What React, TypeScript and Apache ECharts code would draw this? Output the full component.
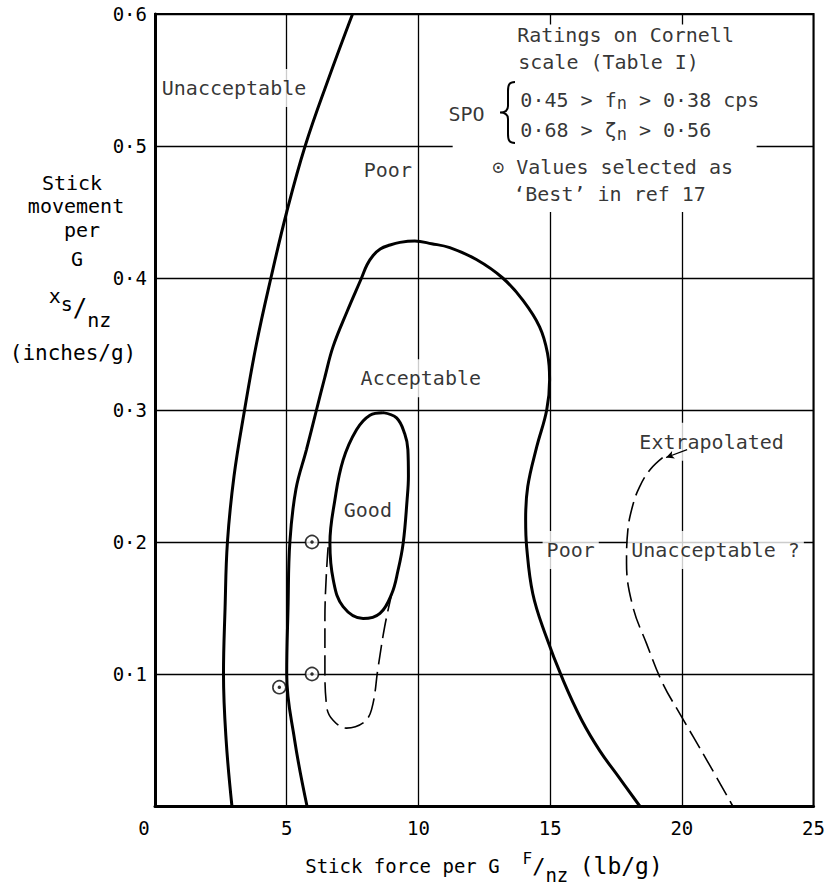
import React, { useEffect, useRef } from 'react';
import * as echarts from 'echarts';

const FONT = '"DejaVu Sans Mono", monospace';

// Axis ticks
const xMin = 0, xMax = 25, xStep = 5;
const yMin = 0, yMax = 0.6, yStep = 0.1;

// Boundary curves [stick force per g, stick movement per g]
const unacceptableBoundary: number[][] = [
  [2.92, 0], [2.7, 0.05], [2.6, 0.1], [2.66, 0.15], [2.75, 0.2], [3.0, 0.25], [3.4, 0.3],
  [3.85, 0.35], [4.4, 0.4], [5.0, 0.45], [5.7, 0.5], [6.57, 0.55], [7.5, 0.6],
];
const acceptableBoundary: number[][] = [
  [5.77, 0], [5.3, 0.05], [5.0, 0.1], [5.05, 0.15], [5.12, 0.2], [5.35, 0.24], [5.75, 0.27],
  [6.13, 0.3], [6.45, 0.325], [6.76, 0.348], [7.3, 0.375], [7.84, 0.4], [8.05, 0.41], [8.28, 0.417],
  [8.55, 0.422], [8.92, 0.425], [9.3, 0.427], [9.86, 0.428], [10.5, 0.426], [11.19, 0.423],
  [12.2, 0.414], [13.2, 0.4], [13.97, 0.383], [14.6, 0.363], [14.9, 0.343], [14.98, 0.323],
  [14.87, 0.3], [14.49, 0.272], [14.15, 0.242], [14.07, 0.217], [14.11, 0.196], [14.34, 0.161],
  [14.8, 0.131], [15.5, 0.095], [16.2, 0.065], [16.88, 0.042], [17.6, 0.022], [18.4, 0],
];
const goodBoundary: number[][] = [
  [8.65, 0.298], [9.17, 0.294], [9.48, 0.282], [9.6, 0.27], [9.62, 0.25], [9.57, 0.232],
  [9.42, 0.199], [9.22, 0.178], [8.99, 0.161], [8.54, 0.146], [7.9, 0.142], [7.14, 0.151],
  [6.77, 0.171], [6.64, 0.199], [6.83, 0.232], [7.14, 0.262], [7.65, 0.285], [8.16, 0.296],
  [8.65, 0.298],
];
const goodExtrapolated: number[][] = [
  [6.57, 0.196], [6.45, 0.143], [6.45, 0.105], [6.52, 0.075], [6.76, 0.065], [7.27, 0.059],
  [7.9, 0.063], [8.22, 0.073], [8.47, 0.105], [8.72, 0.136], [8.99, 0.161],
];
const unacceptableExtrapolated: number[][] = [
  [19.27, 0.264], [18.8, 0.255], [18.4, 0.242], [18.14, 0.228], [17.95, 0.209], [17.9, 0.184],
  [18.14, 0.151], [18.66, 0.123], [19.27, 0.093], [19.92, 0.07], [20.94, 0.035], [21.93, 0],
];
const bestValues: number[][] = [[5.96, 0.2], [5.96, 0.1], [4.72, 0.09]];
const extrapolatedArrow: number[][] = [[20.2, 0.27], [19.4, 0.264]];
const noteMask: number[][] = [[11.3, 0.45], [22.84, 0.592]];

// Text annotations
const regionLabels = [
  { name: 'Unacceptable', value: [3.0, 0.544] },
  { name: 'Poor', value: [8.84, 0.482] },
  { name: 'Acceptable', value: [10.09, 0.324] },
  { name: 'Good', value: [8.08, 0.224] },
  { name: 'Poor', value: [15.78, 0.194] },
  { name: 'Unacceptable ?', value: [21.28, 0.194] },
  { name: 'Extrapolated', value: [21.13, 0.276] },
];
const noteLines = [
  { name: 'Ratings on Cornell', value: [13.73, 0.584] },
  { name: 'scale (Table I)', value: [13.77, 0.564] },
  { name: 'SPO', value: [11.12, 0.524] },
  { name: '0·45 > f{s|n} > 0·38 cps', value: [13.85, 0.535] },
  { name: '0·68 > ζ{s|n} > 0·56', value: [13.85, 0.512] },
  { name: '⊙ Values selected as', value: [12.78, 0.484] },
  { name: '‘Best’ in ref 17', value: [13.58, 0.464] },
];

const BRACE_PATH = 'M15,0 C9,0 8,3 8,9 L8,24 C8,28 6,30.5 0,30.5 C6,30.5 8,33 8,37 L8,52 C8,58 9,61 15,61';

const thick = { color: '#000', width: 3 };
const dashed = { color: '#000', width: 1.6, type: [20, 7] as number[] };
const hidden = { color: 'rgba(0,0,0,0)' };

export default function App() {
  const ref = useRef<HTMLDivElement>(null);
  useEffect(() => {
    const el = ref.current!;
    echarts.graphic.registerShape('brace', echarts.graphic.extendPath(BRACE_PATH, {}) as any);
    const chart = echarts.init(el, null, { renderer: 'svg' });
    const txt = { fontFamily: FONT, fontSize: 20, color: '#000' };
    const option: any = {
      animation: false,
      backgroundColor: '#fff',
      grid: { left: 155, right: 14, top: 14, bottom: 83, show: true, borderColor: '#000', borderWidth: 2 },
      xAxis: {
        type: 'value', min: xMin, max: xMax, interval: xStep,
        axisLine: { show: true, lineStyle: { color: '#000', width: 3 } },
        axisTick: { show: false },
        splitLine: { show: true, lineStyle: { color: '#000', width: 1.3 } },
        axisLabel: {
          ...txt, fontSize: 19, margin: 12,
          formatter: (v: number) => (v === 0 ? '{z|0}' : String(v)),
          rich: { z: { fontFamily: FONT, fontSize: 19, color: '#000', padding: [0, 22, 0, 0] } },
        },
      },
      yAxis: {
        type: 'value', min: yMin, max: yMax, interval: yStep,
        axisLine: { show: true, lineStyle: { color: '#000', width: 3 } },
        axisTick: { show: false },
        splitLine: { show: true, lineStyle: { color: '#000', width: 1.3 } },
        axisLabel: {
          ...txt, fontSize: 19, margin: 8,
          formatter: (v: number) => (v === 0 ? '' : '0·' + Math.round(v * 10)),
        },
      },
      graphic: [
        { type: 'brace', x: 500, y: 82, style: { stroke: '#000', lineWidth: 2, fill: null }, z: 10 },
        { type: 'text', x: 72, y: 183, style: { text: 'Stick', font: `20px ${FONT}`, fill: '#000', align: 'center', verticalAlign: 'middle' } },
        { type: 'text', x: 76, y: 206, style: { text: 'movement', font: `20px ${FONT}`, fill: '#000', align: 'center', verticalAlign: 'middle' } },
        { type: 'text', x: 82, y: 230, style: { text: 'per', font: `20px ${FONT}`, fill: '#000', align: 'center', verticalAlign: 'middle' } },
        { type: 'text', x: 77, y: 259, style: { text: 'G', font: `20px ${FONT}`, fill: '#000', align: 'center', verticalAlign: 'middle' } },
        {
          type: 'text', x: 80, y: 308,
          style: {
            text: '{a|x}{b|s}{c|/}{d|n}{e|z}', fill: '#000', align: 'center', verticalAlign: 'middle',
            rich: {
              a: { fontFamily: FONT, fontSize: 20, lineHeight: 44, verticalAlign: 'top' },
              b: { fontFamily: FONT, fontSize: 20, lineHeight: 30, verticalAlign: 'top', padding: [8, 0, 0, 0] },
              c: { fontFamily: FONT, fontSize: 24, lineHeight: 44, verticalAlign: 'middle' },
              d: { fontFamily: FONT, fontSize: 20, lineHeight: 30, verticalAlign: 'bottom' },
              e: { fontFamily: FONT, fontSize: 20, lineHeight: 22, verticalAlign: 'bottom' },
            },
          },
        },
        { type: 'text', x: 73, y: 353, style: { text: '(inches/g)', font: `21px ${FONT}`, fill: '#000', align: 'center', verticalAlign: 'middle' } },
        {
          type: 'text', x: 484, y: 866,
          style: {
            text: 'Stick force per G  {p|F}{q|/}{r|n}{t|z} {u|(lb/g)}', font: `19px ${FONT}`, fill: '#000', align: 'center', verticalAlign: 'middle',
            rich: {
              p: { fontFamily: FONT, fontSize: 16, lineHeight: 36, verticalAlign: 'top', padding: [2, 0, 0, 0] },
              q: { fontFamily: FONT, fontSize: 22, lineHeight: 36, verticalAlign: 'middle' },
              r: { fontFamily: FONT, fontSize: 19, lineHeight: 28, verticalAlign: 'bottom' },
              t: { fontFamily: FONT, fontSize: 19, lineHeight: 22, verticalAlign: 'bottom' },
              u: { fontFamily: FONT, fontSize: 23, lineHeight: 36, verticalAlign: 'middle' },
            },
          },
        },
      ],
      series: [
        {
          type: 'line', data: noteMask, symbol: 'none', lineStyle: { opacity: 0 }, z: 1, silent: true,
          markArea: {
            silent: true, itemStyle: { color: '#fff' },
            data: [[{ coord: noteMask[0] }, { coord: noteMask[1] }]],
          },
        },
        {
          type: 'scatter', data: regionLabels, symbolSize: 1, itemStyle: hidden, z: 2, silent: true,
          label: { show: true, position: 'inside', formatter: '{b}', ...txt, backgroundColor: '#fff', padding: [9, 4] },
        },
        {
          type: 'scatter', data: noteLines, symbolSize: 1, itemStyle: hidden, z: 6, silent: true,
          label: {
            show: true, position: 'right', distance: 0, formatter: '{b}', ...txt, lineHeight: 24,
            rich: { s: { fontFamily: FONT, fontSize: 17, color: '#000', lineHeight: 12, verticalAlign: 'bottom' } },
          },
        },
        { type: 'line', data: unacceptableBoundary, smooth: 0.4, symbol: 'none', lineStyle: thick, z: 3 },
        { type: 'line', data: acceptableBoundary, smooth: 0.4, symbol: 'none', lineStyle: thick, z: 3 },
        { type: 'line', data: goodBoundary, smooth: 0.4, symbol: 'none', lineStyle: thick, z: 3 },
        { type: 'line', data: goodExtrapolated, smooth: 0.4, symbol: 'none', lineStyle: dashed, z: 3 },
        {
          type: 'line', data: unacceptableExtrapolated, smooth: 0.4, symbol: 'none', lineStyle: dashed, z: 3,
          markLine: {
            silent: true, symbol: ['none', 'arrow'], symbolSize: [6, 8],
            lineStyle: { color: '#000', width: 1.2, type: 'solid' }, label: { show: false },
            data: [[{ coord: extrapolatedArrow[0] }, { coord: extrapolatedArrow[1] }]],
          },
        },
        {
          type: 'scatter', data: bestValues, symbol: 'circle', symbolSize: 13, z: 4,
          itemStyle: { color: '#fff', borderColor: '#000', borderWidth: 1.6 },
        },
        { type: 'scatter', data: bestValues, symbol: 'circle', symbolSize: 3.5, z: 5, itemStyle: { color: '#000' } },
      ],
    };
    chart.setOption(option);
    return () => chart.dispose();
  }, []);
  return (
    <div
      ref={ref}
      style={{ position: 'fixed', left: 0, top: 0, width: 828, height: 889, background: '#fff' }}
    />
  );
}
